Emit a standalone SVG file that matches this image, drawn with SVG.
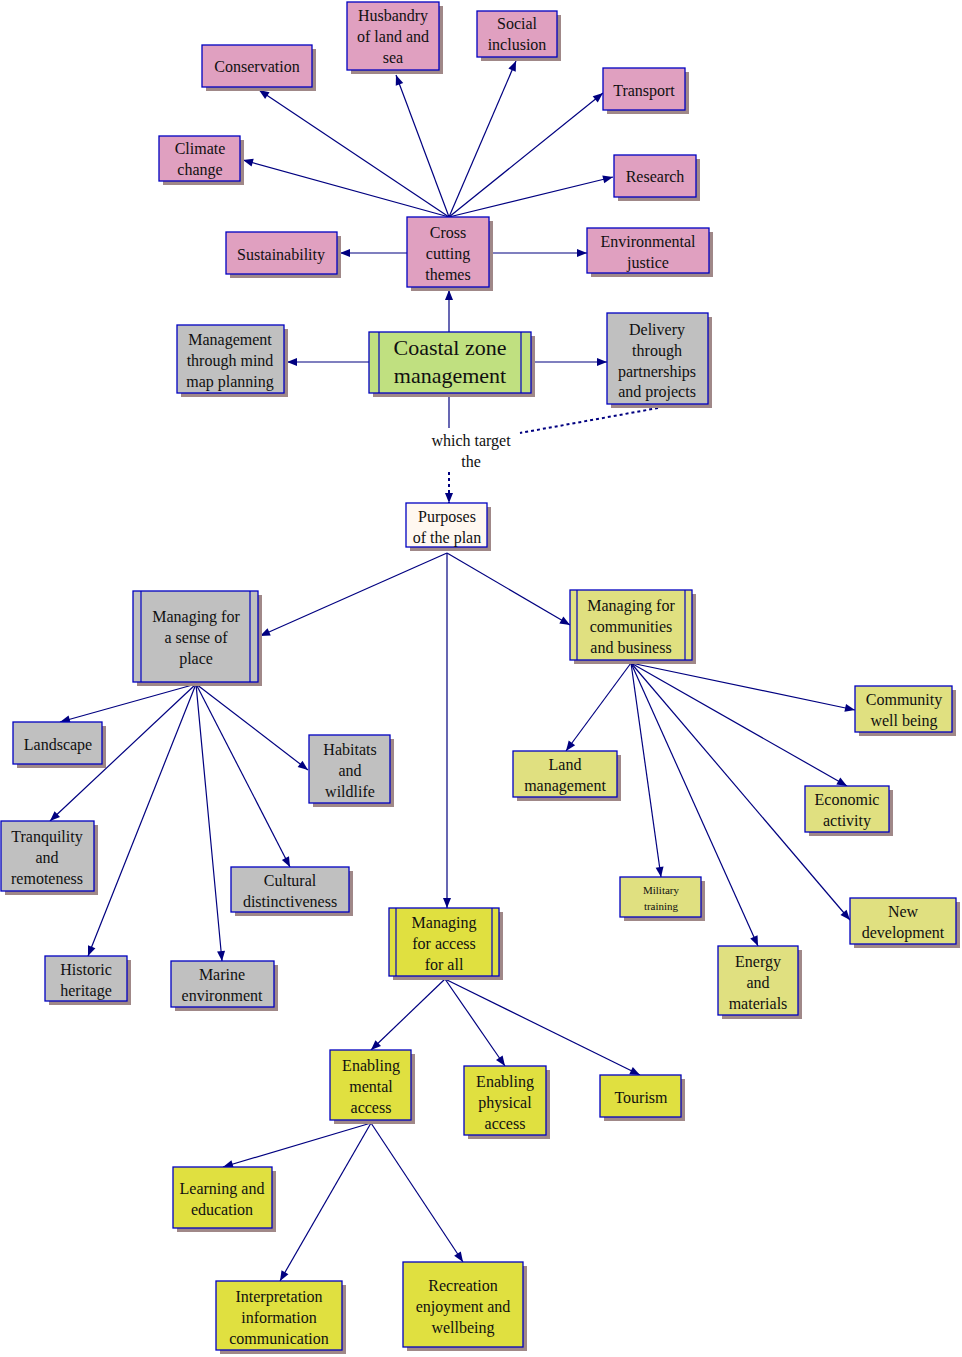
<svg xmlns="http://www.w3.org/2000/svg" width="962" height="1357" viewBox="0 0 962 1357">
<style>
text{font-family:"Liberation Serif",serif;font-size:16px;fill:#101010;text-anchor:middle}
.b{stroke:#0000c0;stroke-width:1.3}
.sh{fill:#a08888}
.p{fill:#e0a0c0}.g{fill:#c0c0c0}.gr{fill:#c0e080}.y{fill:#e0e080}.yy{fill:#e0e040}.w{fill:#fff8f0}
.c line,.c path{stroke:#000080;stroke-width:1.2;fill:none}
.in{stroke:#0000c0;stroke-width:1.2}
</style>
<defs>
<marker id="a" viewBox="0 0 10 10" refX="10" refY="5" markerWidth="12" markerHeight="10" markerUnits="userSpaceOnUse" orient="auto"><path d="M0,1 L10,5 L0,9 Z" fill="#000080"/></marker>
</defs>
<g class="c">
<line x1="449" y1="217" x2="259" y2="90" marker-end="url(#a)"/>
<line x1="449" y1="217" x2="396" y2="75" marker-end="url(#a)"/>
<line x1="449" y1="217" x2="516" y2="61" marker-end="url(#a)"/>
<line x1="449" y1="217" x2="603" y2="93" marker-end="url(#a)"/>
<line x1="449" y1="217" x2="243" y2="160" marker-end="url(#a)"/>
<line x1="449" y1="217" x2="613" y2="177" marker-end="url(#a)"/>
<line x1="407" y1="253" x2="340" y2="253" marker-end="url(#a)"/>
<line x1="490" y1="253" x2="587" y2="253" marker-end="url(#a)"/>
<line x1="449" y1="332" x2="449" y2="290" marker-end="url(#a)"/>
<line x1="369" y1="362" x2="287" y2="362" marker-end="url(#a)"/>
<line x1="531" y1="362" x2="607" y2="362" marker-end="url(#a)"/>
<line x1="449" y1="396" x2="449" y2="428"/>
<path d="M658,408 L520,433" stroke-dasharray="3,3" style="stroke-width:2"/>
<path d="M449,472 L449,503" stroke-dasharray="3,3" style="stroke-width:2" marker-end="url(#a)"/>
<line x1="447" y1="553" x2="260" y2="636" marker-end="url(#a)"/>
<line x1="447" y1="553" x2="447" y2="908" marker-end="url(#a)"/>
<line x1="447" y1="553" x2="570" y2="625" marker-end="url(#a)"/>
<line x1="196" y1="684" x2="60" y2="722" marker-end="url(#a)"/>
<line x1="196" y1="684" x2="50" y2="821" marker-end="url(#a)"/>
<line x1="196" y1="684" x2="308" y2="770" marker-end="url(#a)"/>
<line x1="196" y1="684" x2="290" y2="867" marker-end="url(#a)"/>
<line x1="196" y1="684" x2="88" y2="956" marker-end="url(#a)"/>
<line x1="196" y1="684" x2="222" y2="961" marker-end="url(#a)"/>
<line x1="631" y1="663" x2="566" y2="751" marker-end="url(#a)"/>
<line x1="631" y1="663" x2="855" y2="710" marker-end="url(#a)"/>
<line x1="631" y1="663" x2="847" y2="786" marker-end="url(#a)"/>
<line x1="631" y1="663" x2="661" y2="877" marker-end="url(#a)"/>
<line x1="631" y1="663" x2="850" y2="920" marker-end="url(#a)"/>
<line x1="631" y1="663" x2="758" y2="946" marker-end="url(#a)"/>
<line x1="445" y1="979" x2="371" y2="1050" marker-end="url(#a)"/>
<line x1="445" y1="979" x2="505" y2="1066" marker-end="url(#a)"/>
<line x1="445" y1="979" x2="640" y2="1075" marker-end="url(#a)"/>
<line x1="371" y1="1123" x2="223" y2="1167" marker-end="url(#a)"/>
<line x1="371" y1="1123" x2="280" y2="1281" marker-end="url(#a)"/>
<line x1="371" y1="1123" x2="463" y2="1262" marker-end="url(#a)"/>
</g>
<text x="471" y="446">which target</text>
<text x="471" y="467">the</text>

<g id="conservation"><rect class="sh" x="206" y="49" width="110" height="42"/><rect class="p b" x="202" y="45" width="110" height="42"/><text x="257" y="72">Conservation</text></g>
<g id="husbandry"><rect class="sh" x="351" y="6" width="92" height="68"/><rect class="p b" x="347" y="2" width="92" height="68"/><text x="393" y="21">Husbandry</text><text x="393" y="42">of land and</text><text x="393" y="63">sea</text></g>
<g id="social"><rect class="sh" x="481" y="15" width="80" height="46"/><rect class="p b" x="477" y="11" width="80" height="46"/><text x="517" y="29">Social</text><text x="517" y="50">inclusion</text></g>
<g id="transport"><rect class="sh" x="607" y="72" width="82" height="42"/><rect class="p b" x="603" y="68" width="82" height="42"/><text x="644" y="96">Transport</text></g>
<g id="climate"><rect class="sh" x="163" y="140" width="81" height="45"/><rect class="p b" x="159" y="136" width="81" height="45"/><text x="200" y="154">Climate</text><text x="200" y="175">change</text></g>
<g id="research"><rect class="sh" x="618" y="159" width="82" height="42"/><rect class="p b" x="614" y="155" width="82" height="42"/><text x="655" y="182">Research</text></g>
<g id="sustainability"><rect class="sh" x="230" y="236" width="111" height="42"/><rect class="p b" x="226" y="232" width="111" height="42"/><text x="281" y="260">Sustainability</text></g>
<g id="cross"><rect class="sh" x="411" y="221" width="82" height="70"/><rect class="p b" x="407" y="217" width="82" height="70"/><text x="448" y="238">Cross</text><text x="448" y="259">cutting</text><text x="448" y="280">themes</text></g>
<g id="envjustice"><rect class="sh" x="591" y="232" width="122" height="45"/><rect class="p b" x="587" y="228" width="122" height="45"/><text x="648" y="247">Environmental</text><text x="648" y="268">justice</text></g>
<g id="mindmap"><rect class="sh" x="181" y="329" width="107" height="68"/><rect class="g b" x="177" y="325" width="107" height="68"/><text x="230" y="345">Management</text><text x="230" y="366">through mind</text><text x="230" y="387">map planning</text></g>
<g id="coastal"><rect class="sh" x="373" y="336" width="162" height="61"/><rect class="gr b" x="369" y="332" width="162" height="61"/><line class="in" x1="379" y1="332" x2="379" y2="393"/><line class="in" x1="521" y1="332" x2="521" y2="393"/><text x="450" y="355" style="font-size:22px">Coastal zone</text><text x="450" y="383" style="font-size:22px">management</text></g>
<g id="delivery"><rect class="sh" x="611" y="317" width="101" height="91"/><rect class="g b" x="607" y="313" width="101" height="91"/><text x="657" y="335">Delivery</text><text x="657" y="356">through</text><text x="657" y="377">partnerships</text><text x="657" y="397">and projects</text></g>
<g id="purposes"><rect class="sh" x="410" y="507" width="81" height="44"/><rect class="w b" x="406" y="503" width="81" height="44"/><text x="447" y="522">Purposes</text><text x="447" y="543">of the plan</text></g>
<g id="senseplace"><rect class="sh" x="137" y="595" width="125" height="91"/><rect class="g b" x="133" y="591" width="125" height="91"/><line class="in" x1="141" y1="591" x2="141" y2="682"/><line class="in" x1="250" y1="591" x2="250" y2="682"/><text x="196" y="622">Managing for</text><text x="196" y="643">a sense of</text><text x="196" y="664">place</text></g>
<g id="communities"><rect class="sh" x="574" y="594" width="122" height="70"/><rect class="y b" x="570" y="590" width="122" height="70"/><line class="in" x1="577" y1="590" x2="577" y2="660"/><line class="in" x1="685" y1="590" x2="685" y2="660"/><text x="631" y="611">Managing for</text><text x="631" y="632">communities</text><text x="631" y="653">and business</text></g>
<g id="landscape"><rect class="sh" x="17" y="726" width="89" height="42"/><rect class="g b" x="13" y="722" width="89" height="42"/><text x="58" y="750">Landscape</text></g>
<g id="tranquility"><rect class="sh" x="5" y="825" width="93" height="70"/><rect class="g b" x="1" y="821" width="93" height="70"/><text x="47" y="842">Tranquility</text><text x="47" y="863">and</text><text x="47" y="884">remoteness</text></g>
<g id="habitats"><rect class="sh" x="313" y="739" width="81" height="68"/><rect class="g b" x="309" y="735" width="81" height="68"/><text x="350" y="755">Habitats</text><text x="350" y="776">and</text><text x="350" y="797">wildlife</text></g>
<g id="cultural"><rect class="sh" x="235" y="871" width="118" height="45"/><rect class="g b" x="231" y="867" width="118" height="45"/><text x="290" y="886">Cultural</text><text x="290" y="907">distinctiveness</text></g>
<g id="historic"><rect class="sh" x="49" y="960" width="82" height="45"/><rect class="g b" x="45" y="956" width="82" height="45"/><text x="86" y="975">Historic</text><text x="86" y="996">heritage</text></g>
<g id="marine"><rect class="sh" x="175" y="965" width="103" height="46"/><rect class="g b" x="171" y="961" width="103" height="46"/><text x="222" y="980">Marine</text><text x="222" y="1001">environment</text></g>
<g id="landmgmt"><rect class="sh" x="517" y="755" width="104" height="46"/><rect class="y b" x="513" y="751" width="104" height="46"/><text x="565" y="770">Land</text><text x="565" y="791">management</text></g>
<g id="wellbeing"><rect class="sh" x="859" y="690" width="97" height="46"/><rect class="y b" x="855" y="686" width="97" height="46"/><text x="904" y="705">Community</text><text x="904" y="726">well being</text></g>
<g id="economic"><rect class="sh" x="809" y="790" width="84" height="46"/><rect class="y b" x="805" y="786" width="84" height="46"/><text x="847" y="805">Economic</text><text x="847" y="826">activity</text></g>
<g id="military"><rect class="sh" x="624" y="881" width="81" height="40"/><rect class="y b" x="620" y="877" width="81" height="40"/><text x="661" y="894" style="font-size:11px">Military</text><text x="661" y="910" style="font-size:11px">training</text></g>
<g id="newdev"><rect class="sh" x="854" y="902" width="106" height="46"/><rect class="y b" x="850" y="898" width="106" height="46"/><text x="903" y="917">New</text><text x="903" y="938">development</text></g>
<g id="energy"><rect class="sh" x="722" y="950" width="80" height="69"/><rect class="y b" x="718" y="946" width="80" height="69"/><text x="758" y="967">Energy</text><text x="758" y="988">and</text><text x="758" y="1009">materials</text></g>
<g id="access"><rect class="sh" x="393" y="912" width="110" height="68"/><rect class="yy b" x="389" y="908" width="110" height="68"/><line class="in" x1="396" y1="908" x2="396" y2="976"/><line class="in" x1="492" y1="908" x2="492" y2="976"/><text x="444" y="928">Managing</text><text x="444" y="949">for access</text><text x="444" y="970">for all</text></g>
<g id="mental"><rect class="sh" x="334" y="1054" width="81" height="70"/><rect class="yy b" x="330" y="1050" width="81" height="70"/><text x="371" y="1071">Enabling</text><text x="371" y="1092">mental</text><text x="371" y="1113">access</text></g>
<g id="physical"><rect class="sh" x="468" y="1070" width="82" height="69"/><rect class="yy b" x="464" y="1066" width="82" height="69"/><text x="505" y="1087">Enabling</text><text x="505" y="1108">physical</text><text x="505" y="1129">access</text></g>
<g id="tourism"><rect class="sh" x="604" y="1079" width="81" height="42"/><rect class="yy b" x="600" y="1075" width="81" height="42"/><text x="641" y="1103">Tourism</text></g>
<g id="learning"><rect class="sh" x="177" y="1171" width="99" height="61"/><rect class="yy b" x="173" y="1167" width="99" height="61"/><text x="222" y="1194">Learning and</text><text x="222" y="1215">education</text></g>
<g id="interpretation"><rect class="sh" x="220" y="1285" width="126" height="69"/><rect class="yy b" x="216" y="1281" width="126" height="69"/><text x="279" y="1302">Interpretation</text><text x="279" y="1323">information</text><text x="279" y="1344">communication</text></g>
<g id="recreation"><rect class="sh" x="407" y="1266" width="120" height="85"/><rect class="yy b" x="403" y="1262" width="120" height="85"/><text x="463" y="1291">Recreation</text><text x="463" y="1312">enjoyment and</text><text x="463" y="1333">wellbeing</text></g>
</svg>
